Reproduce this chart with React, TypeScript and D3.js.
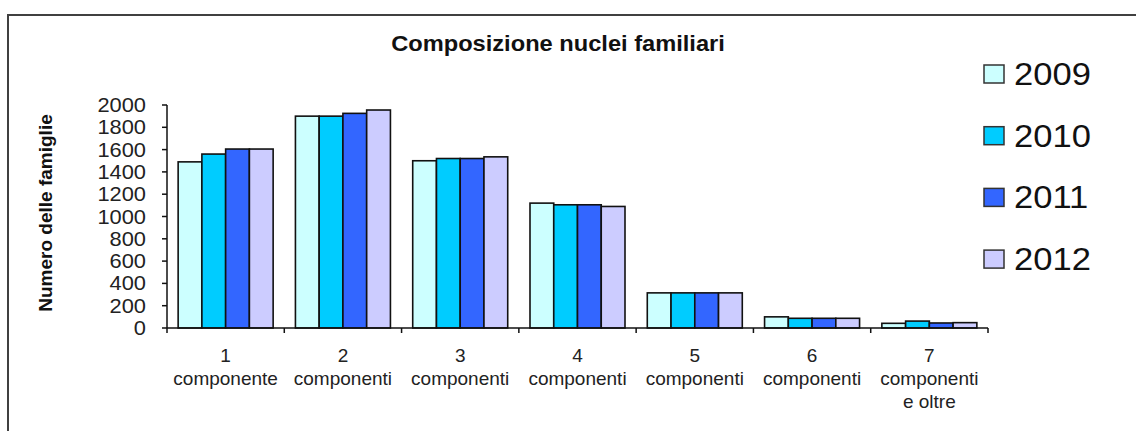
import React, { useEffect, useRef } from 'react';
import * as d3 from 'd3';

const width = 1136;
const height = 431;

const categories = ['1', '2', '3', '4', '5', '6', '7'];
const categoryLines = [
    ['1', 'componente'],
    ['2', 'componenti'],
    ['3', 'componenti'],
    ['4', 'componenti'],
    ['5', 'componenti'],
    ['6', 'componenti'],
    ['7', 'componenti', 'e oltre'],
];
const years = ['2009', '2010', '2011', '2012'];
const values2009 = [1490, 1900, 1500, 1120, 315, 100, 42];
const values2010 = [1560, 1900, 1520, 1105, 315, 87, 62];
const values2011 = [1605, 1925, 1520, 1105, 315, 87, 45];
const values2012 = [1605, 1955, 1535, 1090, 315, 87, 48];
const yTicks = [0, 200, 400, 600, 800, 1000, 1200, 1400, 1600, 1800, 2000];
const colors = ['#CCFFFF', '#00CCFF', '#3366FF', '#CCCCFF'];

const series = [values2009, values2010, values2011, values2012];

const plot = { left: 167, right: 988, top: 105, bottom: 328 };
const font = 'Arial, "Liberation Sans", sans-serif';

/**
 * Grouped bar chart of family sizes per year.
 */
export default function App() {
    const ref = useRef<SVGSVGElement>(null);

    useEffect(() => {
        const svg = d3.select(ref.current);
        svg.selectAll('*').remove();

        // outer frame (right and bottom edges fall outside the picture)
        svg.append('rect')
            .attr('x', 8)
            .attr('y', 15)
            .attr('width', 1300)
            .attr('height', 600)
            .attr('fill', '#ffffff')
            .attr('stroke', '#404040')
            .attr('stroke-width', 2);

        const x = d3.scaleBand()
            .domain(categories)
            .range([plot.left, plot.right])
            .padding(0);
        const bw = x.bandwidth();
        const gap = bw * 0.19;
        const xs = d3.scaleBand()
            .domain(years)
            .range([gap / 2, bw - gap / 2])
            .padding(0);
        const y = d3.scaleLinear()
            .domain([0, 2000])
            .range([plot.bottom, plot.top]);

        // title
        svg.append('text')
            .attr('transform', 'translate(558, 51) scale(1.1, 1)')
            .attr('text-anchor', 'middle')
            .style('font-family', font)
            .style('font-weight', 'bold')
            .style('font-size', '21.5px')
            .attr('fill', '#111111')
            .text('Composizione nuclei familiari');

        // y axis title
        svg.append('text')
            .attr('transform', 'translate(52, 213) rotate(-90)')
            .attr('text-anchor', 'middle')
            .style('font-family', font)
            .style('font-weight', 'bold')
            .style('font-size', '19px')
            .attr('fill', '#111111')
            .text('Numero delle famiglie');

        // bars
        series.forEach((vals, si) => {
            svg.append('g')
                .selectAll('rect')
                .data(vals)
                .enter()
                .append('rect')
                .attr('x', (_, i) => (x(categories[i]) as number) + (xs(years[si]) as number))
                .attr('y', (d) => y(d))
                .attr('width', xs.bandwidth())
                .attr('height', (d) => y(0) - y(d))
                .attr('fill', colors[si])
                .attr('stroke', '#111111')
                .attr('stroke-width', 1.6);
        });

        // y axis
        const yAxis = svg.append('g');
        yAxis.append('line')
            .attr('x1', plot.left).attr('x2', plot.left)
            .attr('y1', plot.top).attr('y2', plot.bottom)
            .attr('stroke', '#111111').attr('stroke-width', 1.5);
        yTicks.forEach((t) => {
            yAxis.append('line')
                .attr('x1', plot.left - 5).attr('x2', plot.left)
                .attr('y1', y(t)).attr('y2', y(t))
                .attr('stroke', '#111111').attr('stroke-width', 1.5);
            yAxis.append('text')
                .attr('transform', `translate(146, ${y(t)}) scale(1.12, 1)`)
                .attr('text-anchor', 'end')
                .attr('dominant-baseline', 'central')
                .style('font-family', font)
                .style('font-size', '19.5px')
                .attr('fill', '#222222')
                .text(t);
        });

        // x axis
        const xAxis = svg.append('g');
        xAxis.append('line')
            .attr('x1', plot.left).attr('x2', plot.right)
            .attr('y1', plot.bottom).attr('y2', plot.bottom)
            .attr('stroke', '#111111').attr('stroke-width', 1.5);
        [...categories.map((c) => x(c) as number), plot.right].forEach((tx) => {
            xAxis.append('line')
                .attr('x1', tx).attr('x2', tx)
                .attr('y1', plot.bottom).attr('y2', plot.bottom + 5)
                .attr('stroke', '#111111').attr('stroke-width', 1.5);
        });
        categoryLines.forEach((lines, i) => {
            const cx = (x(categories[i]) as number) + bw / 2;
            lines.forEach((line, li) => {
                xAxis.append('text')
                    .attr('x', cx)
                    .attr('y', 362 + li * 23)
                    .attr('text-anchor', 'middle')
                    .style('font-family', font)
                    .style('font-size', '19px')
                    .attr('fill', '#222222')
                    .text(line);
            });
        });

        // legend
        const legend = svg.append('g');
        years.forEach((yr, i) => {
            const cy = 74 + i * 61.7;
            legend.append('rect')
                .attr('x', 984)
                .attr('y', cy - 9)
                .attr('width', 20)
                .attr('height', 18)
                .attr('fill', colors[i])
                .attr('stroke', '#333333')
                .attr('stroke-width', 1.5);
            legend.append('text')
                .attr('transform', `translate(1014, ${cy}) scale(1.08, 1)`)
                .attr('dominant-baseline', 'central')
                .style('font-family', font)
                .style('font-size', '32px')
                .attr('fill', '#111111')
                .text(yr);
        });
    }, []);

    return (
        <svg
            ref={ref}
            width={width}
            height={height}
            style={{ position: 'absolute', left: 0, top: 0, background: '#ffffff' }}
        />
    );
}
